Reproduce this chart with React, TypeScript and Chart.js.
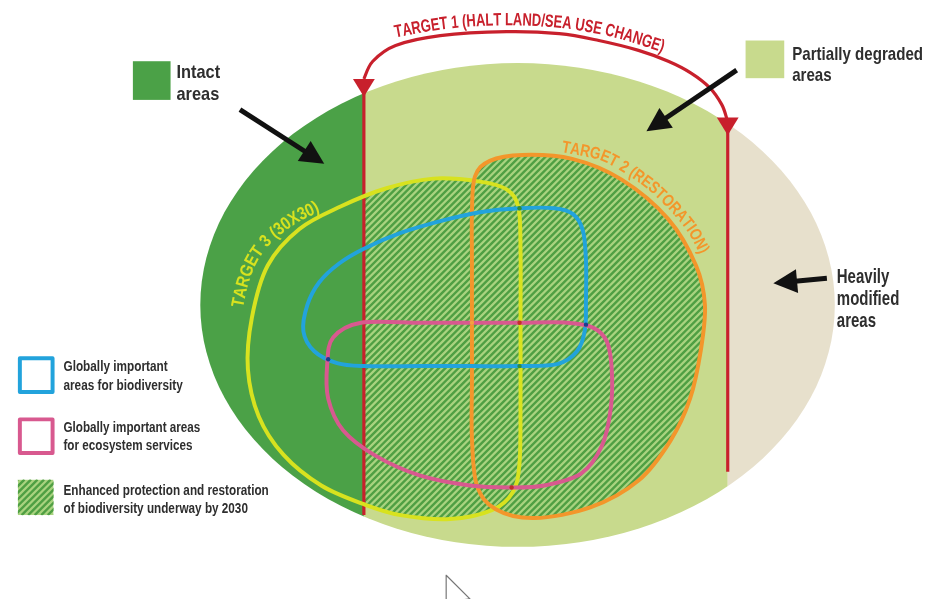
import { useEffect, useRef } from "react";
import { Chart, registerables } from "chart.js";

Chart.register(...registerables);

type Pt = [number, number];

// ---- data (diagram units = picture pixels) ----
const xRange: Pt = [0, 932];
const yRange: Pt = [0, 599];

// landscape ellipse: centre x, centre y, radius x, radius y
const landscape = [518, 305, 320, 244];
// borders between intact | partially degraded | heavily modified
const zoneEdges = [363, 730];
const zoneColors = ["#4ba147", "#c8da8d", "#e7e0cc"];

// Target 1 vertical dividers: x, top, bottom
const target1Lines = [
  [363, 90, 518],
  [730, 128, 474],
];
const target1Arc: Pt[] = [
  [363, 76], [372, 58], [395, 42], [440, 32], [507, 28], [560, 30],
  [600, 37], [640, 47], [670, 58], [693, 70], [712, 85], [724, 102], [729, 116],
];
const target1Tips: Pt[] = [[363, 94], [730, 133]];
const target1TextPath: Pt[] = [
  [395, 34], [440, 26], [485, 22], [530, 22], [575, 26], [620, 35], [664, 49],
];

const blueLoop: Pt[] = [
  [302, 332], [306, 305], [318, 282], [338, 263], [363, 248], [400, 232],
  [440, 220], [480, 211], [520, 207], [555, 207], [574, 213], [584, 230],
  [587, 260], [587, 300], [586, 330], [578, 352], [558, 365], [520, 367],
  [470, 367], [420, 367], [363, 367], [336, 364], [313, 352],
];
const pinkLoop: Pt[] = [
  [360, 323], [420, 323], [470, 323], [520, 323], [568, 323], [594, 328],
  [608, 342], [613, 370], [612, 410], [603, 448], [582, 476], [545, 488],
  [510, 490], [470, 488], [420, 478], [375, 458], [342, 432], [327, 400],
  [326, 365], [332, 338],
];
const yellowLoop: Pt[] = [
  [433, 177], [480, 180], [507, 188], [519, 207], [521, 250], [521, 320],
  [521, 400], [520, 465], [513, 495], [492, 513], [450, 522], [400, 518],
  [363, 507], [320, 488], [282, 457], [257, 418], [246, 370], [250, 318],
  [266, 265], [298, 228], [340, 205], [385, 187],
];
const orangeLoop: Pt[] = [
  [472, 210], [475, 175], [490, 159], [523, 153], [573, 157], [623, 178],
  [670, 218], [698, 265], [707, 305], [703, 350], [692, 400], [672, 443],
  [640, 483], [592, 510], [535, 521], [496, 512], [477, 488], [472, 440],
  [472, 380], [472, 320], [472, 260],
];
const target2TextPath: Pt[] = [
  [562, 150], [600, 158], [627, 172], [653, 191], [675, 213], [691, 233], [702, 254],
];
const target3TextPath: Pt[] = [
  [241, 308], [246, 285], [254, 264], [266, 246], [280, 233], [297, 221], [319, 210],
];

// intersection dots
const crossX = [327, 587, 520, 520, 520, 512, 472];
const crossY = [360, 325, 207, 367, 323, 490, 323];
const crossColors = ["#1b3f8f", "#1b3f8f", "#2e8b3e", "#2e8b3e", "#c0302a", "#c0302a", "#f5a040"];

// black pointer arrows: from, to
const pointerArrows: Pt[][] = [
  [[238, 107], [323, 162]],
  [[739, 67], [648, 129]],
  [[830, 278], [776, 283]],
];

// text labels
const intactLines = ["Intact", "areas"];
const partialLines = ["Partially degraded", "areas"];
const heavyLines = ["Heavily", "modified", "areas"];
const legendBio = ["Globally important", "areas for biodiversity"];
const legendEco = ["Globally important areas", "for ecosystem services"];
const legendHatch = ["Enhanced protection and restoration", "of biodiversity underway by 2030"];
const target1Label = "TARGET 1 (HALT LAND/SEA USE CHANGE)";
const target2Label = "TARGET 2 (RESTORATION)";
const target3Label = "TARGET 3 (30X30)";

const FONT = '"Liberation Sans", Arial, sans-serif';
const TEXT = "#2e2e2e";
const RED = "#c8202c";
const BLUE = "#22a3dc";
const PINK = "#d8598f";
const YELLOW = "#d8e21f";
const ORANGE = "#f3962b";
const HATCH_LIGHT = "#a9d37f";
const HATCH_DARK = "#4f9f43";

// ---- helpers ----
function crPath(ctx: CanvasRenderingContext2D, pts: Pt[], closed: boolean) {
  const n = pts.length;
  const get = (i: number) =>
    closed ? pts[(i + n) % n] : pts[Math.max(0, Math.min(n - 1, i))];
  ctx.moveTo(pts[0][0], pts[0][1]);
  const segs = closed ? n : n - 1;
  for (let i = 0; i < segs; i++) {
    const p0 = get(i - 1), p1 = get(i), p2 = get(i + 1), p3 = get(i + 2);
    ctx.bezierCurveTo(
      p1[0] + (p2[0] - p0[0]) / 6, p1[1] + (p2[1] - p0[1]) / 6,
      p2[0] - (p3[0] - p1[0]) / 6, p2[1] - (p3[1] - p1[1]) / 6,
      p2[0], p2[1]
    );
  }
  if (closed) ctx.closePath();
}

function sampleCR(pts: Pt[]): Pt[] {
  const n = pts.length;
  const get = (i: number) => pts[Math.max(0, Math.min(n - 1, i))];
  const out: Pt[] = [pts[0]];
  for (let i = 0; i < n - 1; i++) {
    const p0 = get(i - 1), p1 = get(i), p2 = get(i + 1), p3 = get(i + 2);
    const c1: Pt = [p1[0] + (p2[0] - p0[0]) / 6, p1[1] + (p2[1] - p0[1]) / 6];
    const c2: Pt = [p2[0] - (p3[0] - p1[0]) / 6, p2[1] - (p3[1] - p1[1]) / 6];
    for (let k = 1; k <= 24; k++) {
      const t = k / 24, u = 1 - t;
      out.push([
        u * u * u * p1[0] + 3 * u * u * t * c1[0] + 3 * u * t * t * c2[0] + t * t * t * p2[0],
        u * u * u * p1[1] + 3 * u * u * t * c1[1] + 3 * u * t * t * c2[1] + t * t * t * p2[1],
      ]);
    }
  }
  return out;
}

function textOnPath(ctx: CanvasRenderingContext2D, text: string, pts: Pt[], size: number, color: string) {
  const poly = sampleCR(pts);
  const cum = [0];
  for (let i = 1; i < poly.length; i++) {
    cum.push(cum[i - 1] + Math.hypot(poly[i][0] - poly[i - 1][0], poly[i][1] - poly[i - 1][1]));
  }
  const L = cum[cum.length - 1];
  ctx.font = `bold ${size}px ${FONT}`;
  const chars = Array.from(text);
  const widths = chars.map((c) => ctx.measureText(c).width);
  const W = widths.reduce((a, b) => a + b, 0);
  const s = L / W;
  ctx.fillStyle = color;
  ctx.textBaseline = "alphabetic";
  let adv = 0;
  chars.forEach((ch, idx) => {
    const cw = widths[idx];
    const d = (adv + cw / 2) * s;
    let j = 1;
    while (j < cum.length - 1 && cum[j] < d) j++;
    const seg = cum[j] - cum[j - 1] || 1;
    const f = (d - cum[j - 1]) / seg;
    const a = poly[j - 1], b = poly[j];
    const x = a[0] + (b[0] - a[0]) * f;
    const y = a[1] + (b[1] - a[1]) * f;
    const ang = Math.atan2(b[1] - a[1], b[0] - a[0]);
    ctx.save();
    ctx.translate(x, y);
    ctx.rotate(ang);
    ctx.scale(s, 1);
    ctx.fillText(ch, -cw / 2, 0);
    ctx.restore();
    adv += cw;
  });
}

function textBlock(
  ctx: CanvasRenderingContext2D, lines: string[], x: number, baselines: number[],
  size: number, firstWidth: number
) {
  ctx.font = `bold ${size}px ${FONT}`;
  const s = firstWidth / ctx.measureText(lines[0]).width;
  ctx.fillStyle = TEXT;
  ctx.textBaseline = "alphabetic";
  lines.forEach((t, i) => {
    ctx.save();
    ctx.translate(x, baselines[i]);
    ctx.scale(s, 1);
    ctx.fillText(t, 0, 0);
    ctx.restore();
  });
}

function hatch(ctx: CanvasRenderingContext2D, x0: number, y0: number, x1: number, y1: number, k: number) {
  ctx.fillStyle = HATCH_LIGHT;
  ctx.fillRect(x0, y0, x1 - x0, y1 - y0);
  ctx.strokeStyle = HATCH_DARK;
  ctx.lineWidth = 2.4 * k;
  const h = y1 - y0;
  ctx.beginPath();
  for (let xx = x0 - h; xx < x1 + h; xx += 6.6 * k) {
    ctx.moveTo(xx, y1);
    ctx.lineTo(xx + h, y0);
  }
  ctx.stroke();
}

function arrow(ctx: CanvasRenderingContext2D, a: Pt, b: Pt, k: number) {
  const ang = Math.atan2(b[1] - a[1], b[0] - a[0]);
  const hl = 24 * k, hw = 12 * k;
  const bx = b[0] - Math.cos(ang) * hl, by = b[1] - Math.sin(ang) * hl;
  ctx.strokeStyle = "#111";
  ctx.fillStyle = "#111";
  ctx.lineWidth = 5 * k;
  ctx.lineCap = "butt";
  ctx.beginPath();
  ctx.moveTo(a[0], a[1]);
  ctx.lineTo(bx + Math.cos(ang) * 2, by + Math.sin(ang) * 2);
  ctx.stroke();
  ctx.beginPath();
  ctx.moveTo(b[0], b[1]);
  ctx.lineTo(bx - Math.sin(ang) * hw, by + Math.cos(ang) * hw);
  ctx.lineTo(bx + Math.sin(ang) * hw, by - Math.cos(ang) * hw);
  ctx.closePath();
  ctx.fill();
}

const diagramPlugin = {
  id: "diagram",
  beforeDatasetsDraw(chart: any) {
    const ctx: CanvasRenderingContext2D = chart.ctx;
    const xs = chart.scales.x, ys = chart.scales.y;
    const X = (v: number) => xs.getPixelForValue(v);
    const Y = (v: number) => ys.getPixelForValue(v);
    const P = (p: Pt): Pt => [X(p[0]), Y(p[1])];
    const k = Math.abs(X(1) - X(0));
    const left = X(xRange[0]), right = X(xRange[1]);
    const top = Y(yRange[0]), bottom = Y(yRange[1]);

    ctx.save();
    ctx.fillStyle = "#ffffff";
    ctx.fillRect(left, top, right - left, bottom - top);

    // landscape zones
    const [cx, cy, rx, ry] = landscape;
    ctx.save();
    ctx.beginPath();
    ctx.ellipse(X(cx), Y(cy), rx * k, ry * k, 0, 0, Math.PI * 2);
    ctx.clip();
    const edges = [cx - rx - 2, ...zoneEdges, cx + rx + 2];
    zoneColors.forEach((c, i) => {
      ctx.fillStyle = c;
      ctx.fillRect(X(edges[i]), Y(cy - ry - 2), X(edges[i + 1]) - X(edges[i]), (2 * ry + 4) * k);
    });

    // hatched area: targets 2 & 3 outside intact zone
    ctx.save();
    ctx.beginPath();
    ctx.rect(X(zoneEdges[0]), top, right - X(zoneEdges[0]), bottom - top);
    ctx.clip();
    ctx.beginPath();
    crPath(ctx, yellowLoop.map(P), true);
    crPath(ctx, orangeLoop.map(P), true);
    ctx.clip("nonzero");
    hatch(ctx, X(zoneEdges[0]), Y(140), X(720), Y(530), k);
    ctx.restore();
    ctx.restore();

    // target 1 dividers
    ctx.strokeStyle = RED;
    ctx.lineWidth = 3.2 * k;
    target1Lines.forEach(([x, y0, y1]) => {
      ctx.beginPath();
      ctx.moveTo(X(x), Y(y0));
      ctx.lineTo(X(x), Y(y1));
      ctx.stroke();
    });

    // loops
    ctx.lineJoin = "round";
    const loops: [Pt[], string][] = [
      [yellowLoop, YELLOW],
      [orangeLoop, ORANGE],
      [blueLoop, BLUE],
      [pinkLoop, PINK],
    ];
    loops.forEach(([pts, col]) => {
      ctx.strokeStyle = col;
      ctx.lineWidth = 4 * k;
      ctx.beginPath();
      crPath(ctx, pts.map(P), true);
      ctx.stroke();
    });

    // target 1 arc with arrowheads
    ctx.strokeStyle = RED;
    ctx.lineWidth = 3.2 * k;
    ctx.beginPath();
    crPath(ctx, target1Arc.map(P), false);
    ctx.stroke();
    ctx.fillStyle = RED;
    target1Tips.forEach((t) => {
      const [tx, ty] = P(t);
      ctx.beginPath();
      ctx.moveTo(tx, ty);
      ctx.lineTo(tx - 11 * k, ty - 18 * k);
      ctx.lineTo(tx + 11 * k, ty - 18 * k);
      ctx.closePath();
      ctx.fill();
    });

    // curved target labels
    textOnPath(ctx, target1Label, target1TextPath.map(P), 18 * k, RED);
    textOnPath(ctx, target2Label, target2TextPath.map(P), 17 * k, ORANGE);
    textOnPath(ctx, target3Label, target3TextPath.map(P), 18 * k, YELLOW);

    // pointer arrows
    pointerArrows.forEach(([a, b]) => arrow(ctx, P(a), P(b), k));

    // top labels with swatches
    ctx.fillStyle = zoneColors[0];
    ctx.fillRect(X(130), Y(58), 38 * k, 39 * k);
    textBlock(ctx, intactLines, X(174), [Y(75), Y(97)], 19 * k, 44 * k);
    ctx.fillStyle = zoneColors[1];
    ctx.fillRect(X(748), Y(37), 39 * k, 38 * k);
    textBlock(ctx, partialLines, X(795), [Y(57), Y(78)], 19 * k, 132 * k);
    textBlock(ctx, heavyLines, X(840), [Y(283), Y(305), Y(327)], 20 * k, 53 * k);

    // legend
    ctx.lineWidth = 4 * k;
    ctx.strokeStyle = BLUE;
    ctx.strokeRect(X(16), Y(359), 33 * k, 34 * k);
    ctx.strokeStyle = PINK;
    ctx.strokeRect(X(16), Y(421), 33 * k, 34 * k);
    ctx.save();
    ctx.beginPath();
    ctx.rect(X(14), Y(482), 36 * k, 36 * k);
    ctx.clip();
    hatch(ctx, X(14), Y(482), X(50), Y(518), k);
    ctx.restore();
    textBlock(ctx, legendBio, X(60), [Y(372), Y(391)], 15 * k, 105 * k);
    textBlock(ctx, legendEco, X(60), [Y(434), Y(452)], 15 * k, 138 * k);
    textBlock(ctx, legendHatch, X(60), [Y(498), Y(516)], 15 * k, 207 * k);

    // mouse cursor
    const cur: Pt[] = [[446, 579], [446, 612], [453, 605], [470, 603]];
    ctx.beginPath();
    cur.map(P).forEach((p, i) => (i ? ctx.lineTo(p[0], p[1]) : ctx.moveTo(p[0], p[1])));
    ctx.closePath();
    ctx.fillStyle = "#ffffff";
    ctx.fill();
    ctx.strokeStyle = "#777";
    ctx.lineWidth = 1.2 * k;
    ctx.stroke();

    ctx.restore();
  },
};

export default function App() {
  const ref = useRef<HTMLCanvasElement>(null);
  useEffect(() => {
    const chart = new Chart(ref.current as HTMLCanvasElement, {
      type: "scatter",
      data: {
        datasets: [
          {
            data: crossX.map((x, i) => ({ x, y: crossY[i] })),
            pointBackgroundColor: crossColors,
            pointBorderWidth: 0,
            pointRadius: 2.2,
          },
        ],
      },
      options: {
        responsive: false,
        animation: false,
        events: [],
        layout: { padding: 0 },
        plugins: { legend: { display: false }, tooltip: { enabled: false } },
        scales: {
          x: { type: "linear", min: xRange[0], max: xRange[1], display: false },
          y: { type: "linear", min: yRange[0], max: yRange[1], reverse: true, display: false },
        },
      },
      plugins: [diagramPlugin],
    });
    return () => chart.destroy();
  }, []);
  return (
    <div style={{ position: "fixed", left: 0, top: 0, width: 932, height: 599, background: "#fff" }}>
      <canvas ref={ref} width={932} height={599} style={{ display: "block" }} />
    </div>
  );
}
